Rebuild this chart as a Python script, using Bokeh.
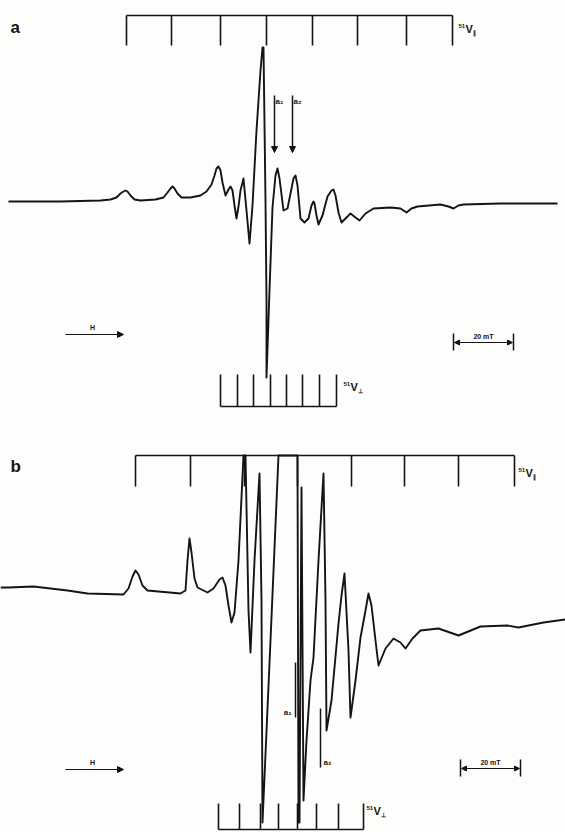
from bokeh.plotting import figure
from bokeh.models import Range1d, Arrow, NormalHead, Label
from bokeh.embed import file_html
from bokeh.resources import INLINE

# ---------------- data (field position, recorder deflection) ----------------
# Panel a trace
a_field = [8, 60, 100, 110, 116, 120, 123, 125, 127, 130, 134, 140, 155, 163, 167, 170, 172, 174, 177,
           181, 190, 200, 206, 211, 214, 216, 218, 220, 222, 225, 228, 230, 232, 234, 236, 238, 240,
           243, 246, 249, 252, 256, 260, 262, 263, 265, 266, 266, 269, 272, 275, 277, 279, 283, 287,
           291, 293, 295, 297, 300, 304, 308, 311, 313, 314, 316, 318, 322, 327, 331, 333, 335, 338,
           341, 346, 350, 355, 359, 365, 373, 390, 400, 406, 411, 417, 440, 448, 453, 458, 463, 500, 557]
a_signal = [201, 201, 200, 199, 197, 193, 191, 190, 191, 195, 199, 200, 199, 197, 192, 188, 186, 188, 193,
            197, 197, 195, 191, 184, 175, 168, 166, 170, 182, 195, 189, 186, 190, 205, 218, 206, 190,
            178, 210, 243, 205, 130, 70, 47, 47, 200, 300, 377, 290, 207, 175, 168, 178, 210, 208,
            188, 178, 175, 185, 218, 222, 218, 205, 201, 203, 215, 224, 215, 196, 190, 189, 195, 212,
            222, 217, 213, 217, 220, 213, 208, 207, 208, 212, 208, 206, 204, 206, 208, 205, 204, 203, 203]

# Panel b trace
b_field = [0, 8, 33, 67, 87, 123, 128, 132, 135, 138, 142, 147, 180, 185, 187, 189, 191, 194, 197, 207,
           213, 219, 222, 225, 228, 231, 234, 238, 243, 245, 248, 250, 254, 259, 261, 262, 270, 278,
           297, 298, 299, 301, 303, 306, 310, 313, 318, 323, 325, 326, 331, 338, 341, 344, 348, 350,
           355, 360, 365, 368, 371, 375, 378, 385, 393, 400, 405, 412, 420, 438, 458, 480, 507, 518,
           543, 565]
b_signal = [587, 587, 586, 590, 593, 594, 588, 576, 570, 574, 585, 590, 593, 590, 560, 538, 552, 578, 587, 592,
            588, 579, 577, 585, 605, 622, 612, 560, 455, 455, 610, 652, 560, 473, 600, 822, 640, 455,
            455, 822, 822, 487, 800, 740, 680, 657, 560, 473, 600, 730, 700, 623, 595, 573, 650, 717,
            680, 637, 610, 593, 605, 640, 665, 648, 638, 642, 648, 638, 630, 628, 635, 626, 625, 627,
            622, 619]

# stick diagrams (hyperfine line positions)
a_par_ticks = [126, 171, 220, 266, 312, 357, 406, 452]
a_perp_ticks = [220, 237, 253, 270, 286, 302, 319, 336]
b_par_ticks = [135, 190, 244, 297, 351, 404, 458, 514]
b_perp_ticks = [218, 239, 260, 278, 297, 316, 338, 363]

INK = "#141414"
FONT = "Liberation Sans"

p = figure(width=565, height=832, x_range=Range1d(0, 565), y_range=Range1d(832, 0),
           output_backend="svg", toolbar_location=None, x_axis_type=None, y_axis_type=None,
           min_border=0)
p.grid.grid_line_color = None
p.outline_line_color = None
p.background_fill_color = "#fdfdfb"
p.border_fill_color = "white"

# traces
p.line(a_field, a_signal, line_color=INK, line_width=1.9, line_join="round")
p.line(b_field, b_signal, line_color=INK, line_width=1.9, line_join="round")


def comb(ticks, y_line, y_tip, lw=1.6):
    p.segment(x0=[ticks[0]], y0=[y_line], x1=[ticks[-1]], y1=[y_line], line_color=INK, line_width=lw)
    p.segment(x0=ticks, y0=[y_line] * len(ticks), x1=ticks, y1=[y_tip] * len(ticks),
              line_color=INK, line_width=lw)


comb(a_par_ticks, 15, 45)
comb(a_perp_ticks, 406, 374)
comb(b_par_ticks, 455, 486)
comb(b_perp_ticks, 829, 803)


def lab(x, y, t, size, bold=True, align="left", base="middle"):
    p.add_layout(Label(x=x, y=y, text=t, text_font=FONT, text_font_size=f"{size}px",
                       text_font_style="bold" if bold else "normal", text_color=INK,
                       text_align=align, text_baseline=base))


def vlab(x, y, sub):
    lab(x, y - 3, "51", 6)
    lab(x + 7, y, "V", 11)
    lab(x + 14, y + 4, sub, 6)


# panel letters
lab(10, 27, "a", 17)
lab(10, 466, "b", 17)

# comb labels
vlab(458, 28, "∥")
vlab(343, 386, "⊥")
vlab(518, 472, "∥")
vlab(366, 810, "⊥")

# markers panel a
for xm, t in [(274, "a₁"), (292, "a₂")]:
    p.add_layout(Arrow(end=NormalHead(size=6, fill_color=INK, line_color=INK),
                       x_start=xm, y_start=95, x_end=xm, y_end=152,
                       line_color=INK, line_width=1.5))
    lab(xm + 1, 101, t, 8)

# markers panel b
p.segment(x0=[295, 320], y0=[662, 708], x1=[295, 320], y1=[717, 767], line_color=INK, line_width=1.5)
lab(291, 712, "a₁", 8, align="right")
lab(323, 762, "a₂", 8)

# field direction arrows
for yh in [334, 769]:
    p.add_layout(Arrow(end=NormalHead(size=6, fill_color=INK, line_color=INK),
                       x_start=65, y_start=yh, x_end=123, y_end=yh,
                       line_color=INK, line_width=1.2))
    lab(92, yh - 4, "H", 7, align="center", base="bottom")

# 20 mT scale bars
for x0, x1, yb in [(453, 513, 342), (460, 520, 768)]:
    p.segment(x0=[x0, x1], y0=[yb - 9, yb - 9], x1=[x0, x1], y1=[yb + 8, yb + 8],
              line_color=INK, line_width=1.5)
    p.add_layout(Arrow(start=NormalHead(size=5, fill_color=INK, line_color=INK),
                       end=NormalHead(size=5, fill_color=INK, line_color=INK),
                       x_start=x0 + 1, y_start=yb, x_end=x1 - 1, y_end=yb,
                       line_color=INK, line_width=1.2))
    lab((x0 + x1) / 2, yb - 3, "20 mT", 7, align="center", base="bottom")

open("out.html", "w").write(file_html(p, INLINE))
